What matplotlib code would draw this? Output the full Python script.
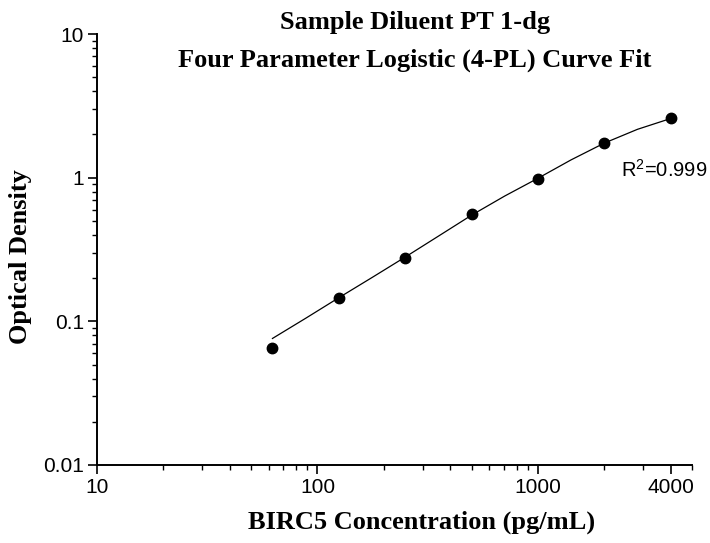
import matplotlib
matplotlib.use("Agg")
import matplotlib.pyplot as plt
from matplotlib.ticker import LogLocator, FixedLocator, NullFormatter, FixedFormatter

plt.rcParams['mathtext.fontset'] = 'custom'
plt.rcParams['mathtext.rm'] = 'Liberation Sans'
plt.rcParams['mathtext.it'] = 'Liberation Sans:italic'

# Standards (pg/mL) and measured OD
conc = [62.5, 125, 250, 500, 1000, 2000, 4000]
od = [0.0652, 0.1445, 0.277, 0.558, 0.978, 1.75, 2.60]

# 4-PL fitted curve
curve_x = [62.5, 88.4, 125, 177, 250, 354, 500, 707, 1000, 1414, 2000, 2828, 4000]
curve_y = [0.076, 0.105, 0.146, 0.202, 0.280, 0.392, 0.548, 0.745, 0.99, 1.33, 1.74, 2.17, 2.58]

x_ticks = [10, 100, 1000, 4000]
x_ticklabels = ["10", "100", "1000", "4000"]
y_ticks = [0.01, 0.1, 1, 10]
y_ticklabels = ["0.01", "0.1", "1", "10"]

title_lines = ["Sample Diluent PT 1-dg", "Four Parameter Logistic (4-PL) Curve Fit"]
xlabel = "BIRC5 Concentration (pg/mL)"
ylabel = "Optical Density"
r2_text = "R$^{2}$=0.999"

W, H = 710, 543
fig = plt.figure(figsize=(W / 100, H / 100), dpi=100)
ax = fig.add_axes([97 / W, 1 - 465 / H, (692 - 97) / W, (465 - 34) / H])

ax.set_xscale('log')
ax.set_yscale('log')
ax.set_xlim(10, 5000)
ax.set_ylim(0.01, 10)

ax.plot(curve_x, curve_y, color='black', lw=0.9, zorder=2)
ax.plot(conc, od, 'o', color='black', ms=7.5, zorder=3)

for s in ['top', 'right']:
    ax.spines[s].set_visible(False)
for s in ['left', 'bottom']:
    ax.spines[s].set_linewidth(1.4)

ax.xaxis.set_major_locator(FixedLocator(x_ticks))
ax.xaxis.set_major_formatter(FixedFormatter(x_ticklabels))
minor_x = [m * d for d in (10, 100, 1000) for m in range(2, 10) if m * d <= 5000 and m * d != 4000]
ax.xaxis.set_minor_locator(FixedLocator(minor_x))
ax.xaxis.set_minor_formatter(NullFormatter())

ax.yaxis.set_major_locator(FixedLocator(y_ticks))
ax.yaxis.set_major_formatter(FixedFormatter(y_ticklabels))
ax.yaxis.set_minor_locator(LogLocator(base=10, subs=range(2, 10)))
ax.yaxis.set_minor_formatter(NullFormatter())

ax.tick_params(which='major', direction='out', length=6.5, width=1.2,
               labelsize=15, pad=3)
ax.tick_params(which='minor', direction='out', length=3.6, width=1.0)
for lab in ax.get_xticklabels() + ax.get_yticklabels():
    lab.set_fontfamily('Liberation Sans')

fig.text(415 / W, 1 - 22 / H, title_lines[0], ha='center', va='center',
         fontsize=19, fontweight='bold', family='Liberation Serif')
fig.text(415 / W, 1 - 60 / H, title_lines[1], ha='center', va='center',
         fontsize=19, fontweight='bold', family='Liberation Serif')
fig.text(422 / W, 1 - 522 / H, xlabel, ha='center', va='center',
         fontsize=19, fontweight='bold', family='Liberation Serif')
fig.text(21 / W, 1 - 257 / H, ylabel, ha='center', va='center', rotation=90,
         fontsize=19, fontweight='bold', family='Liberation Serif')
fig.text(621 / W, 1 - 170 / H, r2_text, ha='left', va='center',
         fontsize=14.5, family='Liberation Sans')

fig.savefig("out.png", dpi=100)
